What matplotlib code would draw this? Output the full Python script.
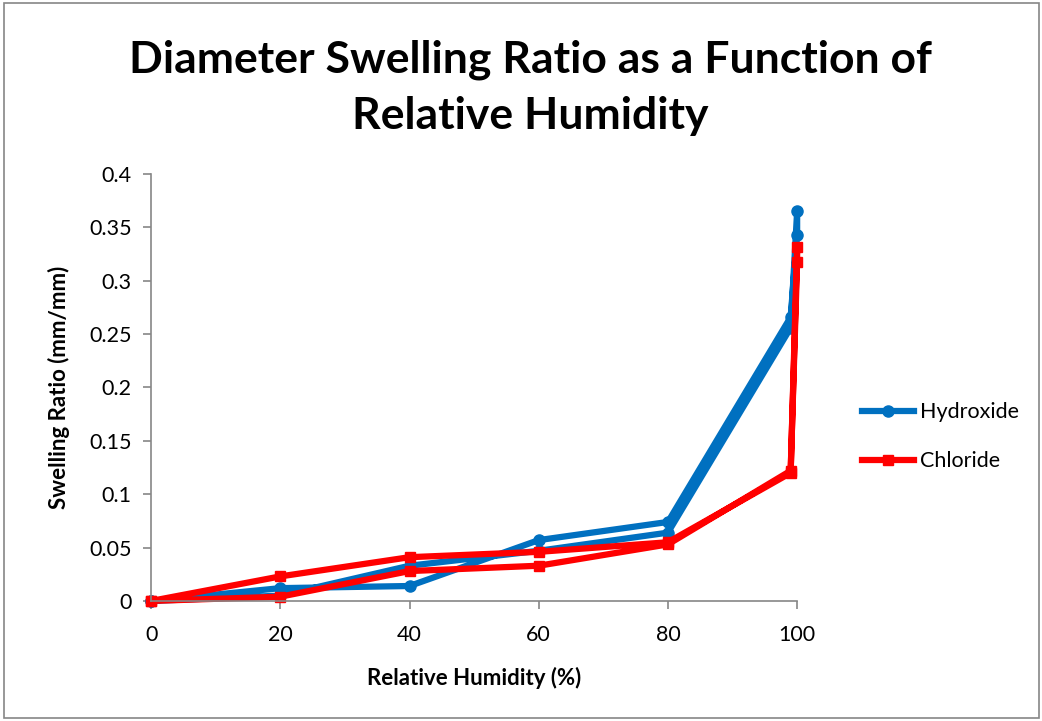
import matplotlib.pyplot as plt
from matplotlib.patches import Rectangle

# adsorption then desorption sweep
hyd_rh = [0, 20, 40, 60, 80, 99, 100, 100, 99, 80, 60, 40, 20, 0]
hyd_sr = [0, 0.012, 0.014, 0.057, 0.074, 0.266, 0.343, 0.365, 0.256, 0.064, 0.047, 0.033, 0.005, 0]

chl_rh = [0, 20, 40, 60, 80, 99, 100, 100, 99, 80, 60, 40, 20, 0]
chl_sr = [0, 0.004, 0.028, 0.033, 0.053, 0.122, 0.318, 0.332, 0.120, 0.055, 0.046, 0.041, 0.023, 0]

xticks = [0, 20, 40, 60, 80, 100]
yticks = [0, 0.05, 0.1, 0.15, 0.2, 0.25, 0.3, 0.35, 0.4]
ytick_labels = ['0', '0.05', '0.1', '0.15', '0.2', '0.25', '0.3', '0.35', '0.4']

plt.rcParams['font.family'] = ['Lato', 'DejaVu Sans']

fig = plt.figure(figsize=(10.42, 7.21), dpi=100)
ax = fig.add_axes([0.145, 0.1665, 0.62, 0.5922])

ax.plot(hyd_rh, hyd_sr, color='#0070C0', lw=4.5, marker='o', ms=8,
        label='Hydroxide', solid_joinstyle='round')
ax.plot(chl_rh, chl_sr, color='#FF0000', lw=4.5, marker='s', ms=7.5,
        label='Chloride', solid_joinstyle='round')

ax.set_xlim(0, 100)
ax.set_ylim(0, 0.4)
ax.set_xticks(xticks)
ax.set_yticks(yticks)
ax.set_yticklabels(ytick_labels)
ax.tick_params(labelsize=15.5, color='#868686', length=6, width=1.2, pad=8)
ax.tick_params(axis='x', pad=11)

for s in ['top', 'right']:
    ax.spines[s].set_visible(False)
for s in ['left', 'bottom']:
    ax.spines[s].set_color('#868686')
    ax.spines[s].set_linewidth(1.2)

ax.set_xlabel('Relative Humidity (%)', fontsize=16, fontweight='bold', labelpad=16)
ax.set_ylabel('Swelling Ratio (mm/mm)', fontsize=16, fontweight='bold', labelpad=14)

fig.text(0.509, 0.878, 'Diameter Swelling Ratio as a Function of\nRelative Humidity',
         ha='center', va='center', fontsize=32, fontweight='bold', linespacing=1.5)

ax.legend(loc='center left', bbox_to_anchor=(1.07, 0.385), frameon=False,
          fontsize=15.5, handlelength=2.45, handletextpad=0.25, labelspacing=1.35)
for ln in ax.lines:
    ln.set_clip_on(False)

fig.patches.append(Rectangle((0.004, 0.004), 0.993, 0.992, transform=fig.transFigure,
                             fill=False, edgecolor='#868686', lw=1.2))

fig.savefig('out.png', dpi=100)
